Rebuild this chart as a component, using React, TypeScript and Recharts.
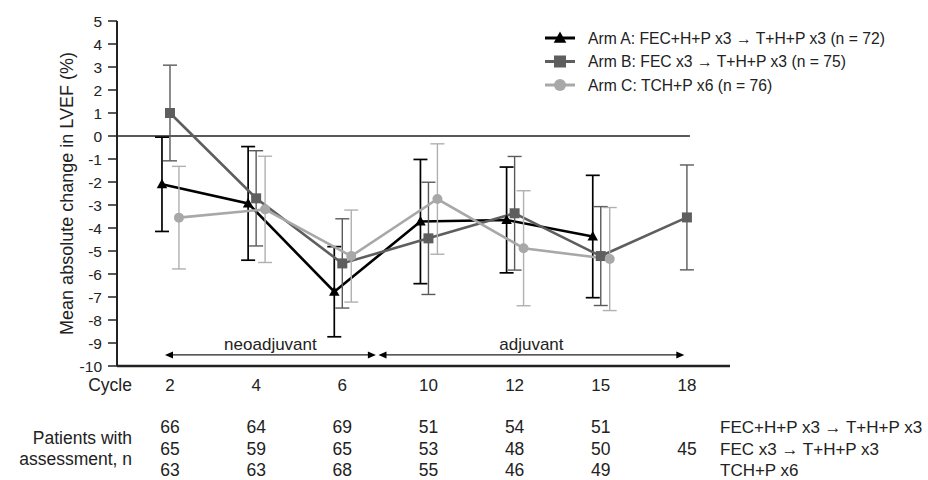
import React from "react";
import {ComposedChart, ErrorBar, Legend, Line, ReferenceLine, XAxis, YAxis} from "recharts";

const cycles = ["2", "4", "6", "10", "12", "15", "18"];

const armAMean = [-2.1, -2.93, -6.77, -3.72, -3.65, -4.37, null];
const armAErr = [2.05, 2.47, 1.96, 2.7, 2.3, 2.66, null];
const armBMean = [1.0, -2.71, -5.54, -4.45, -3.36, -5.22, -3.54];
const armBErr = [2.08, 2.07, 1.94, 2.44, 2.47, 2.15, 2.28];
const armCMean = [-3.55, -3.19, -5.22, -2.74, -4.88, -5.35, null];
const armCErr = [2.23, 2.31, 2.0, 2.4, 2.5, 2.24, null];

const patientsA = [66, 64, 69, 51, 54, 51, null];
const patientsB = [65, 59, 65, 53, 48, 50, 45];
const patientsC = [63, 63, 68, 55, 46, 49, null];

const armN = [72, 75, 76];
const regimenA = "FEC+H+P x3 \u2192 T+H+P x3";
const regimenB = "FEC x3 \u2192 T+H+P x3";
const regimenC = "TCH+P x6";

const yTicks = [5, 4, 3, 2, 1, 0, -1, -2, -3, -4, -5, -6, -7, -8, -9, -10];

// layout of the x scale (index units), plus the small dodge of arms A and C
const xMin = -0.615;
const xMax = 6.5;
const dodgeA = 0.093;
const dodgeC = 0.104;

const FONT = "'Liberation Sans', Arial, Helvetica, sans-serif";
const TEXT = "#222";

function toRows(mean: (number | null)[], err: (number | null)[]) {
    return cycles
        .map((c, i) => ({pos: i, cycle: c, mean: mean[i], err: err[i]}))
        .filter(d => d.mean !== null);
}

const dataA = toRows(armAMean, armAErr);
const dataB = toRows(armBMean, armBErr);
const dataC = toRows(armCMean, armCErr);

type Shape = "triangle" | "square" | "circle";

const arms = [
    {name: `Arm A: ${regimenA} (n = ${armN[0]})`, color: "#000", shape: "triangle" as Shape},
    {name: `Arm B: ${regimenB} (n = ${armN[1]})`, color: "#5e5e5e", shape: "square" as Shape},
    {name: `Arm C: ${regimenC} (n = ${armN[2]})`, color: "#a8a8a8", shape: "circle" as Shape},
];

function Marker({shape, cx, cy, size, fill}: {shape: Shape; cx: number; cy: number; size: number; fill: string}) {
    if (cx == null || cy == null) return null;
    const h = size / 2;
    if (shape === "triangle") {
        return <polygon points={`${cx},${cy - h * 1.1} ${cx - h * 1.05},${cy + h * 0.8} ${cx + h * 1.05},${cy + h * 0.8}`} fill={fill}/>;
    }
    if (shape === "square") {
        return <rect x={cx - h} y={cy - h} width={size} height={size} fill={fill}/>;
    }
    return <circle cx={cx} cy={cy} r={h} fill={fill}/>;
}

const dotFor = (shape: Shape, fill: string, size: number) => (props: any) => (
    <Marker key={props.index} shape={shape} cx={props.cx} cy={props.cy} size={size} fill={fill}/>
);

function CycleTick({x, y, payload}: any) {
    const i = payload.value;
    const rows = [patientsA, patientsB, patientsC];
    return (
        <g fontFamily={FONT} fill={TEXT}>
            <text x={x} y={y + 25} textAnchor="middle" fontSize={17}>{cycles[i]}</text>
            {rows.map((row, r) =>
                row[i] == null ? null : (
                    <text key={r} x={x} y={y + 67 + r * 21.5} textAnchor="middle" fontSize={17.5}>{row[i]}</text>
                )
            )}
        </g>
    );
}

const arrowShape = (label: string) => (props: any) => {
    const {x1, y1, x2} = props;
    return (
        <g>
            <line x1={x1 + 6} y1={y1} x2={x2 - 6} y2={y1} stroke="#222" strokeWidth={1.3}/>
            <polygon points={`${x1},${y1} ${x1 + 8},${y1 - 3.5} ${x1 + 8},${y1 + 3.5}`} fill="#000"/>
            <polygon points={`${x2},${y1} ${x2 - 8},${y1 - 3.5} ${x2 - 8},${y1 + 3.5}`} fill="#000"/>
            <text x={(x1 + x2) / 2} y={y1 - 5} textAnchor="middle" fontSize={17} fill={TEXT} fontFamily={FONT}>{label}</text>
        </g>
    );
};

function LegendBox() {
    return (
        <svg width={380} height={72} style={{display: "block"}}>
            {arms.map((a, i) => {
                const cy = 12 + i * 23.5;
                return (
                    <g key={a.name}>
                        <line x1={5} y1={cy} x2={35} y2={cy} stroke={a.color} strokeWidth={3}/>
                        <Marker shape={a.shape} cx={20} cy={cy} size={12} fill={a.color}/>
                        <text x={48} y={cy + 5.5} fontSize={15.7} fill={TEXT} fontFamily={FONT}>{a.name}</text>
                    </g>
                );
            })}
        </svg>
    );
}

export default function App() {
    return (
        <div style={{position: "absolute", left: 0, top: 0, width: 928, height: 480, fontFamily: FONT, background: "#fff"}}>
            <ComposedChart width={928} height={480} margin={{top: 21, right: 198, bottom: 0, left: 57}}>
                <XAxis
                    xAxisId="b"
                    dataKey="pos"
                    type="number"
                    domain={[xMin, xMax]}
                    allowDataOverflow
                    ticks={[0, 1, 2, 3, 4, 5, 6]}
                    tick={<CycleTick/>}
                    tickLine={false}
                    tickSize={0}
                    tickMargin={0}
                    height={114}
                    axisLine={{stroke: "#222", strokeWidth: 2.5}}
                />
                <XAxis xAxisId="a" dataKey="pos" type="number" domain={[xMin + dodgeA, xMax + dodgeA]} allowDataOverflow hide height={0}/>
                <XAxis xAxisId="c" dataKey="pos" type="number" domain={[xMin - dodgeC, xMax - dodgeC]} allowDataOverflow hide height={0}/>
                <YAxis
                    domain={[-10, 5]}
                    ticks={yTicks}
                    interval={0}
                    width={60}
                    tickSize={9}
                    tickMargin={6}
                    axisLine={{stroke: "#222", strokeWidth: 2}}
                    tickLine={{stroke: "#222", strokeWidth: 1.5}}
                    tick={{fill: TEXT, fontSize: 15.5}}
                    label={{
                        value: "Mean absolute change in LVEF (%)",
                        angle: -90,
                        position: "insideLeft",
                        offset: 10,
                        style: {textAnchor: "middle", fontSize: 18, fill: TEXT},
                    }}
                />
                <ReferenceLine
                    xAxisId="b"
                    segment={[{x: xMin, y: 0}, {x: 6.035, y: 0}]}
                    stroke="#222"
                    strokeWidth={1.4}
                />
                <ReferenceLine
                    xAxisId="b"
                    segment={[{x: -0.058, y: -9.52}, {x: 2.39, y: -9.52}]}
                    shape={arrowShape("neoadjuvant")}
                />
                <ReferenceLine
                    xAxisId="b"
                    segment={[{x: 2.42, y: -9.52}, {x: 5.97, y: -9.52}]}
                    shape={arrowShape("adjuvant")}
                />
                <Legend
                    layout="vertical"
                    align="center"
                    verticalAlign="middle"
                    wrapperStyle={{top: 26, left: 540, width: 380}}
                    content={() => <LegendBox/>}
                />
                <Line
                    xAxisId="a"
                    data={dataA}
                    dataKey="mean"
                    name={arms[0].name}
                    stroke={arms[0].color}
                    strokeWidth={2.6}
                    dot={dotFor("triangle", arms[0].color, 10)}
                    activeDot={false}
                    isAnimationActive={false}
                >
                    <ErrorBar dataKey="err" direction="y" width={7} stroke="#000" strokeWidth={1.7} isAnimationActive={false}/>
                </Line>
                <Line
                    xAxisId="b"
                    data={dataB}
                    dataKey="mean"
                    name={arms[1].name}
                    stroke={arms[1].color}
                    strokeWidth={2.6}
                    dot={dotFor("square", arms[1].color, 10)}
                    activeDot={false}
                    isAnimationActive={false}
                >
                    <ErrorBar dataKey="err" direction="y" width={7} stroke="#5a5a5a" strokeWidth={1.4} isAnimationActive={false}/>
                </Line>
                <Line
                    xAxisId="c"
                    data={dataC}
                    dataKey="mean"
                    name={arms[2].name}
                    stroke={arms[2].color}
                    strokeWidth={2.6}
                    dot={dotFor("circle", arms[2].color, 10)}
                    activeDot={false}
                    isAnimationActive={false}
                >
                    <ErrorBar dataKey="err" direction="y" width={7} stroke="#b0b0b0" strokeWidth={1.4} isAnimationActive={false}/>
                </Line>
            </ComposedChart>
            <svg width={928} height={480} style={{position: "absolute", left: 0, top: 0, pointerEvents: "none"}}>
                <g fontFamily={FONT} fill={TEXT} fontSize={17.5} textAnchor="end">
                    <text x={132} y={391}>Cycle</text>
                    <text x={132} y={444}>Patients with</text>
                    <text x={132} y={465}>assessment, n</text>
                </g>
                <g fontFamily={FONT} fill={TEXT} fontSize={17}>
                    <text x={720} y={433}>{regimenA}</text>
                    <text x={720} y={454.5}>{regimenB}</text>
                    <text x={720} y={476}>{regimenC}</text>
                </g>
            </svg>
        </div>
    );
}
